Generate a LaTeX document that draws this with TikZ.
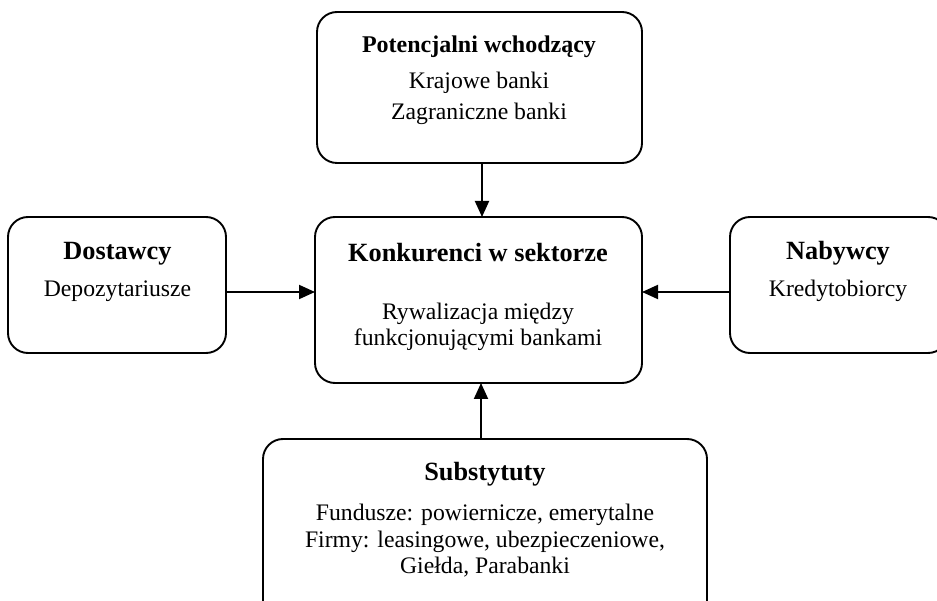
\documentclass[tikz,border=0pt]{standalone}
\usepackage{fontspec}
\setmainfont{Liberation Serif}
\usetikzlibrary{arrows.meta}
\begin{document}
\begin{tikzpicture}[x=1pt,y=-1pt,
  box/.style={draw, line width=1.9pt, rounded corners=20pt, inner sep=0pt, outer sep=0pt},
  ttl/.style={anchor=base, inner sep=0pt, font=\fontsize{26.3}{30}\selectfont\bfseries},
  ttls/.style={anchor=base, inner sep=0pt, font=\fontsize{24}{28}\selectfont\bfseries},
  body/.style={anchor=base, inner sep=0pt, font=\fontsize{23.7}{28}\selectfont},
  arr/.style={line width=1.9pt, -{Triangle[length=16pt,width=14pt]}}]
\useasboundingbox (0,0) rectangle (937,601);
\clip (0,0) rectangle (937,601);
% boxes
\node[box, minimum width=325pt, minimum height=151pt] (top) at (479.5,87.5) {};
\node[box, minimum width=327pt, minimum height=166pt] (mid) at (478.5,300) {};
\node[box, minimum width=218pt, minimum height=136pt] (left) at (117,285) {};
\node[box, minimum width=218pt, minimum height=136pt] (right) at (839,285) {};
\node[box, minimum width=444pt, minimum height=190pt] (bot) at (485,534) {};
% texts
\node[ttls] (t1) at (479,53) {Potencjalni wchodzący};
\node[body] (t2) at (479,89) {Krajowe banki};
\node[body] (t3) at (479,120) {Zagraniczne banki};
\node[ttl] (m1) at (478,262) {Konkurenci w sektorze};
\node[body] (m2) at (478,320) {Rywalizacja między};
\node[body] (m3) at (478,346) {funkcjonującymi bankami};
\node[ttl] (l1) at (117.5,260) {Dostawcy};
\node[body] (l2) at (117.5,297) {Depozytariusze};
\node[ttl] (r1) at (838,260) {Nabywcy};
\node[body] (r2) at (838,297) {Kredytobiorcy};
\node[ttl] (b1) at (485,480) {Substytuty};
\node[body] (b2) at (485,520) {Fundusze: powiernicze, emerytalne};
\node[body] (b3) at (485,547) {Firmy: leasingowe, ubezpieczeniowe,};
\node[body] (b4) at (485,573) {Giełda, Parabanki};
% connector guides
\coordinate (xa) at (482,0);
\coordinate (xb) at (481,0);
\coordinate (ya) at (0,292);
% connectors
\draw[arr] (top.south -| xa) -- (mid.north -| xa);
\draw[arr] (bot.north -| xb) -- (mid.south -| xb);
\draw[arr] (left.east |- ya) -- (mid.west |- ya);
\draw[arr] (right.west |- ya) -- (mid.east |- ya);
\end{tikzpicture}
\end{document}
